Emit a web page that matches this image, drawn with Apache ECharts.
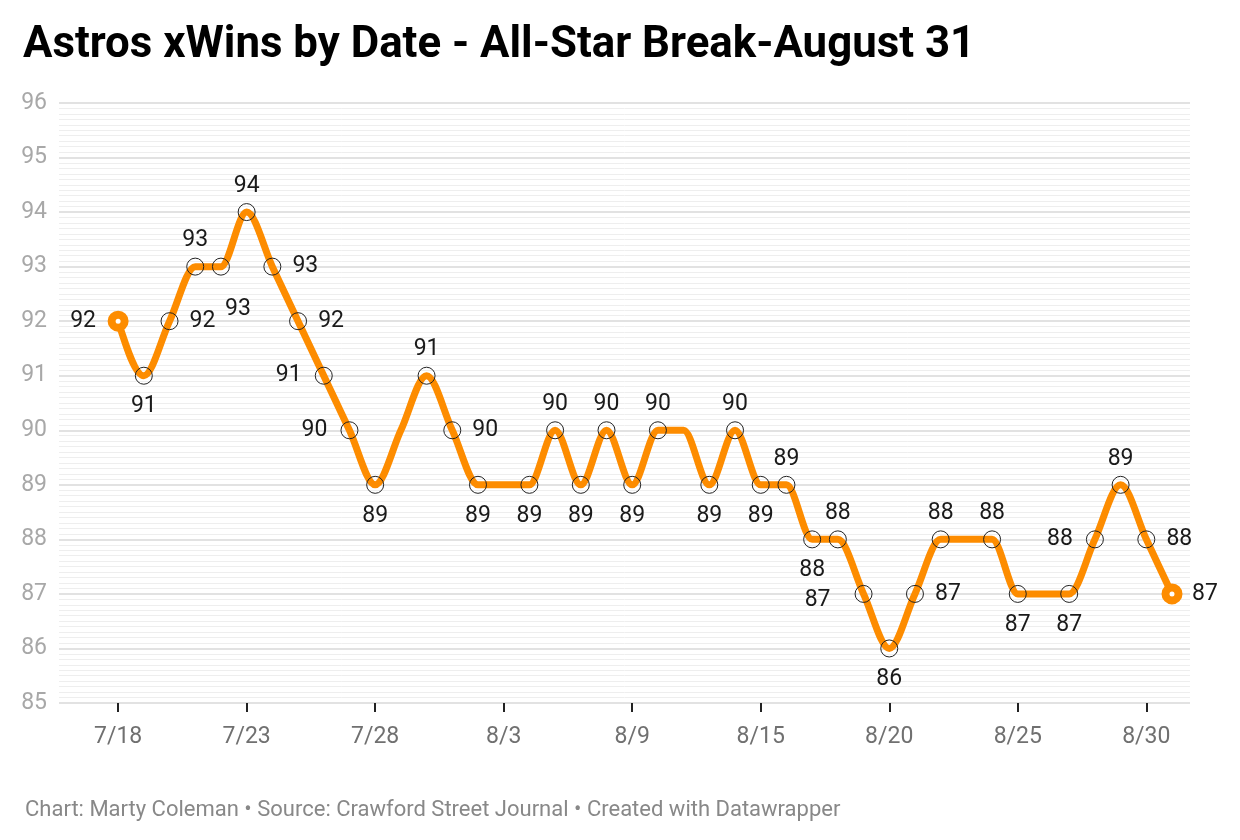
<!DOCTYPE html>
<html>
<head>
<meta charset="utf-8">
<title>Astros xWins by Date</title>
<script src="https://cdn.jsdelivr.net/npm/echarts@6/dist/echarts.min.js"></script>
<style>
  html, body { margin: 0; padding: 0; background: #fff; }
  #chart { width: 1240px; height: 840px; }
</style>
</head>
<body>
<div id="chart"></div>
<script>
// game dates (off days left out) and expected wins on each one
var dates = ['7/18', '7/19', '7/20', '7/21', '7/22', '7/23', '7/24', '7/25', '7/26', '7/27',
             '7/28', '7/29', '7/30', '7/31', '8/2', '8/3', '8/4', '8/5', '8/6', '8/7',
             '8/9', '8/10', '8/11', '8/12', '8/14', '8/15', '8/16', '8/17', '8/18', '8/19',
             '8/20', '8/21', '8/22', '8/23', '8/24', '8/25', '8/26', '8/27', '8/28', '8/29',
             '8/30', '8/31'];
var xWins = [92, 91, 92, 93, 93, 94, 93, 92, 91, 90,
             89, 90, 91, 90, 89, 89, 89, 90, 89, 90,
             89, 90, 90, 89, 90, 89, 89, 88, 88, 87,
             86, 87, 88, 88, 88, 87, 87, 87, 88, 89,
             88, 87];
var tickIndex = [0, 5, 10, 15, 20, 25, 30, 35, 40];
var yTicks = [85, 86, 87, 88, 89, 90, 91, 92, 93, 94, 95, 96];

// where each value label sits ('' = no marker, no label)
var placement = ['left', 'bottom', 'right', 'top', 'downright', 'top', 'right', 'right', 'left', 'left',
                 'bottom', '', 'top', 'right', 'bottom', '', 'bottom', 'top', 'bottom', 'top',
                 'bottom', 'top', '', 'bottom', 'top', 'bottom', 'top', 'bottom', 'top', 'downleft',
                 'bottom', 'right', 'top', '', 'top', 'bottom', '', 'bottom', 'left', 'top',
                 'right', 'right'];
var offsets = {
    top: [0, -26], bottom: [0, 31], left: [-35, 0], right: [33, 0],
    downright: [17, 43], downleft: [-46, 6]
};

var orange = '#fd8c00';
var last = xWins.length - 1;

// monotone cubic curve (same shape as d3.curveMonotoneX) through pixel points
function monotonePath(p) {
    var n = p.length, t = [], i;
    function sign(x) { return x < 0 ? -1 : x > 0 ? 1 : 0; }
    for (i = 1; i < n - 1; i++) {
        var h0 = p[i][0] - p[i - 1][0], h1 = p[i + 1][0] - p[i][0];
        var s0 = (p[i][1] - p[i - 1][1]) / h0, s1 = (p[i + 1][1] - p[i][1]) / h1;
        var q = (s0 * h1 + s1 * h0) / (h0 + h1);
        t[i] = (sign(s0) + sign(s1)) * Math.min(Math.abs(s0), Math.abs(s1), 0.5 * Math.abs(q)) || 0;
    }
    t[0] = (3 * (p[1][1] - p[0][1]) / (p[1][0] - p[0][0]) - t[1]) / 2;
    t[n - 1] = (3 * (p[n - 1][1] - p[n - 2][1]) / (p[n - 1][0] - p[n - 2][0]) - t[n - 2]) / 2;
    var d = 'M' + p[0][0] + ' ' + p[0][1];
    for (i = 0; i < n - 1; i++) {
        var dx = (p[i + 1][0] - p[i][0]) / 3;
        d += ' C' + (p[i][0] + dx) + ' ' + (p[i][1] + dx * t[i]) + ' ' +
             (p[i + 1][0] - dx) + ' ' + (p[i + 1][1] - dx * t[i + 1]) + ' ' +
             p[i + 1][0] + ' ' + p[i + 1][1];
    }
    return d;
}

var points = xWins.map(function (v, i) {
    var p = placement[i];
    var item = { value: [i, v] };
    if (!p) {
        item.symbol = 'none';
        item.label = { show: false };
    } else if (i === 0 || i === last) {
        item.symbolSize = 13;
        item.itemStyle = { color: '#fff', borderColor: orange, borderWidth: 8 };
        item.label = { show: true, offset: offsets[p] };
    } else {
        item.label = { show: true, offset: offsets[p] };
    }
    return item;
});

var myChart = echarts.init(document.getElementById('chart'));

var option = {
    animation: false,
    backgroundColor: '#fff',
    textStyle: { fontFamily: 'Roboto' },
    title: [{
        text: 'Astros xWins by Date - All-Star Break-August 31',
        left: 18,
        top: 19,
        textStyle: { fontSize: 43.8, fontWeight: 'bold', color: '#000', fontFamily: 'Roboto' }
    }, {
        text: 'Chart: Marty Coleman \u2022 Source: Crawford Street Journal \u2022 Created with Datawrapper',
        left: 20,
        top: 794,
        textStyle: { fontSize: 22, fontWeight: 'normal', color: '#888', fontFamily: 'Roboto' }
    }],
    grid: {
        left: 59,
        right: 50,
        top: 103,
        bottom: 137,
        containLabel: false
    },
    xAxis: {
        type: 'value',
        min: -2.3,
        max: 41.7,
        axisLine: { show: false },
        splitLine: { show: false },
        axisTick: {
            show: true,
            customValues: tickIndex,
            length: 9,
            lineStyle: { color: '#222', width: 2 }
        },
        axisLabel: {
            customValues: tickIndex,
            margin: 23,
            color: '#707070',
            fontSize: 23,
            fontFamily: 'Roboto',
            formatter: function (v) { return dates[v]; }
        }
    },
    yAxis: {
        type: 'value',
        min: yTicks[0],
        max: yTicks[yTicks.length - 1],
        interval: 1,
        axisLine: { show: false },
        axisTick: { show: false },
        axisLabel: {
            color: '#a8a8a8',
            fontSize: 23,
            margin: 12,
            fontFamily: 'Roboto'
        },
        splitLine: { lineStyle: { color: '#e2e2e2', width: 2 } },
        minorTick: { show: false, splitNumber: 10 },
        minorSplitLine: { show: true, lineStyle: { color: '#eeeeee', width: 1 } }
    },
    series: [{
        name: 'curve',
        type: 'custom',
        z: 2,
        silent: true,
        data: xWins.map(function (v, i) { return [i, v]; }),
        encode: { x: 0, y: 1 },
        renderItem: function (params, api) {
            if (params.dataIndex !== 0) return;
            var px = xWins.map(function (v, i) { return api.coord([i, v]); });
            return {
                type: 'path',
                shape: { pathData: monotonePath(px) },
                style: { fill: 'none', stroke: orange, lineWidth: 7, lineCap: 'round', lineJoin: 'round' }
            };
        }
    }, {
        name: 'xWins',
        type: 'line',
        z: 3,
        data: points,
        symbol: 'circle',
        symbolSize: 17,
        lineStyle: { opacity: 0 },
        itemStyle: { color: 'rgba(0,0,0,0)', borderColor: '#222', borderWidth: 1 },
        label: {
            show: true,
            position: 'inside',
            color: '#1a1a1a',
            fontSize: 23,
            fontFamily: 'Roboto',
            formatter: function (p) { return p.value[1]; }
        },
        emphasis: { disabled: true }
    }]
};

myChart.setOption(option);
window.addEventListener('resize', function () {
    myChart.resize();
});
</script>
</body>
</html>
